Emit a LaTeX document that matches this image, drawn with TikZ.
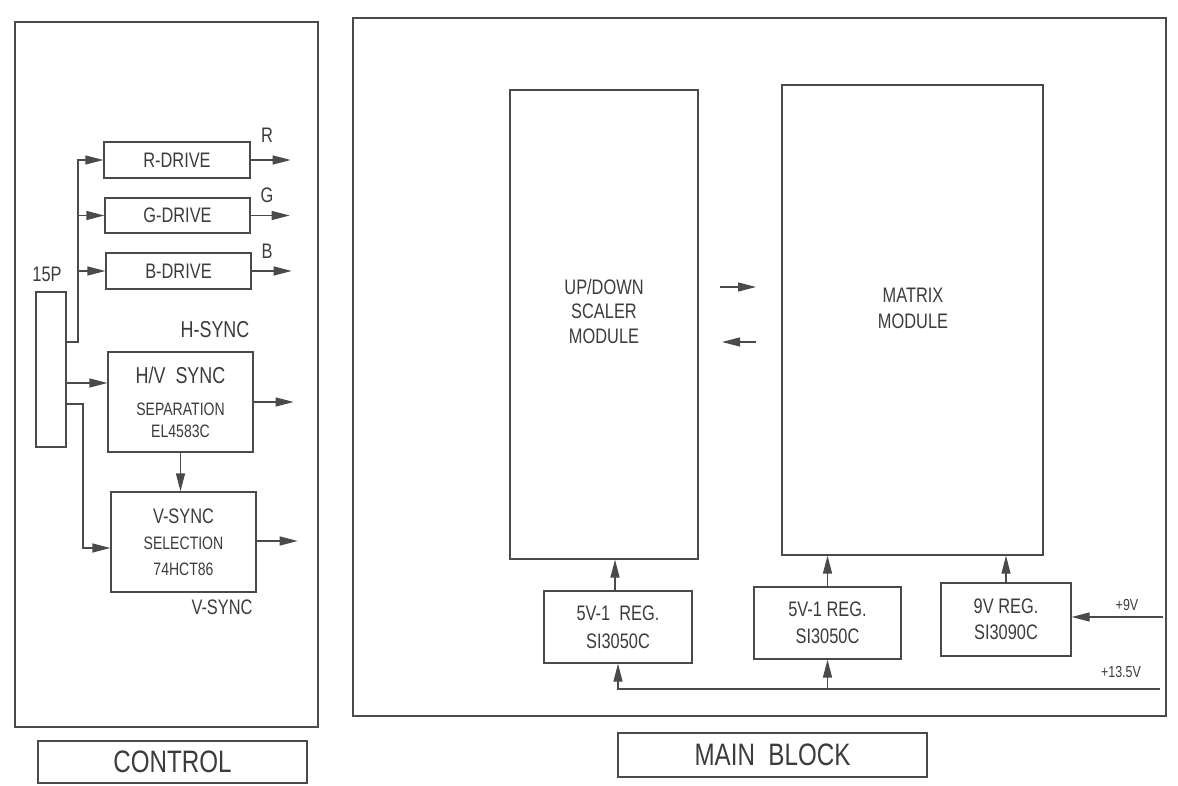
\documentclass[tikz,border=0pt]{standalone}
\usepackage{fontspec}
\setmainfont{Liberation Sans}[FakeStretch=0.78]
\usetikzlibrary{arrows.meta}
\definecolor{ink}{HTML}{4A4A4A}
\definecolor{txt}{HTML}{3C3C3C}
\begin{document}
\begin{tikzpicture}[x=1pt,y=-1pt,
  frame/.style={draw=ink,line width=1.3pt,inner sep=0pt,text=txt},
  boxa/.style={frame,align=center},
  wire/.style={draw=ink,line width=1.3pt},
  arr/.style={wire,-{Triangle[length=18pt,width=9pt]}},
  lbl/.style={text=txt,inner sep=0pt},
  fa/.style={font=\fontsize{21}{24}\selectfont},
  fb/.style={font=\fontsize{18}{22}\selectfont},
  fc/.style={font=\fontsize{16}{18}\selectfont}]
\useasboundingbox (0,0) rectangle (1178,786);
\fill[white] (0,0) rectangle (1178,786);

% ---------------- CONTROL ----------------
\node[frame,minimum width=303pt,minimum height=705pt] (ctrl) at (166.5,374.5) {};
\node[frame,minimum width=269pt,minimum height=42pt,font=\fontsize{31}{34}\selectfont] (ctrllbl) at (172.5,762) {CONTROL};

\node[frame,minimum width=30pt,minimum height=155pt] (p15) at (51,369.5) {};
\node[lbl,fa] (p15lbl) at (47,274) {15P};

\node[boxa,fa,minimum width=146pt,minimum height=36pt] (rdrv) at (177,160) {R-DRIVE};
\node[boxa,fa,minimum width=145pt,minimum height=35pt] (gdrv) at (177.5,215.5) {G-DRIVE};
\node[boxa,fa,minimum width=145pt,minimum height=36pt] (bdrv) at (178.5,271) {B-DRIVE};

\node[boxa,minimum width=145pt,minimum height=100pt,font=\fontsize{18}{22}\selectfont] (hv) at (180.5,402)
  {{\fontsize{23}{24}\selectfont H/V\ \ SYNC}\\[10pt]SEPARATION\\EL4583C};
\node[boxa,minimum width=145pt,minimum height=100pt,font=\fontsize{18}{26}\selectfont] (vs) at (183.5,542)
  {{\fontsize{21}{24}\selectfont V-SYNC}\\SELECTION\\74HCT86};

\node[lbl,fa] (rl) at (267,135) {R};
\node[lbl,fa] (gl) at (267,195) {G};
\node[lbl,fa] (bl) at (267,251) {B};
\node[lbl,font=\fontsize{23}{24}\selectfont] (hsl) at (215,330) {H-SYNC};
\node[lbl,fa] (vsl) at (222,607) {V-SYNC};

\coordinate (bus) at (78,342);
\draw[arr] (p15.east |- bus) -- (bus) |- (rdrv.west);
\draw[arr] (bus |- gdrv.west) -- (gdrv.west);
\draw[arr] (bus |- bdrv.west) -- (bdrv.west);

\draw[arr] (rdrv.east) -- ([xshift=40pt]rdrv.east);
\draw[arr] (gdrv.east) -- ([xshift=39pt]gdrv.east);
\draw[arr] (bdrv.east) -- ([xshift=40pt]bdrv.east);

\coordinate (hin) at ([yshift=19pt]hv.west);
\draw[arr] (p15.east |- hin) -- (hin);
\coordinate (vbend) at (83,404);
\coordinate (vin) at ([yshift=-6pt]vs.west);
\draw[arr] (p15.east |- vbend) -- (vbend) |- (vin);

\draw[arr] (hv.east) -- ([xshift=40pt]hv.east);
\draw[arr] (hv.south) -- (hv.south |- vs.north);
\draw[arr] ([yshift=1pt]vs.east) -- ([xshift=41pt,yshift=1pt]vs.east);

% ---------------- MAIN BLOCK ----------------
\node[frame,minimum width=813pt,minimum height=698pt] (main) at (759.5,367) {};
\node[frame,minimum width=309pt,minimum height=44pt,font=\fontsize{31}{34}\selectfont] (mainlbl) at (772.5,755) {MAIN\ \ BLOCK};

\node[frame,minimum width=188pt,minimum height=469pt] (scal) at (604,324.5) {};
\node[lbl,align=center,font=\fontsize{21}{24.5}\selectfont] (scaltxt) at (604,311) {UP/DOWN\\SCALER\\MODULE};
\node[frame,minimum width=261pt,minimum height=470pt] (matx) at (912.5,320) {};
\node[lbl,align=center,font=\fontsize{21}{26}\selectfont] (matxtxt) at (913,308) {MATRIX\\MODULE};

\coordinate (a1s) at (720,287);
\coordinate (a1e) at (756,287);
\coordinate (a2s) at (756,342);
\coordinate (a2e) at (722,342);
\draw[arr] (a1s) -- (a1e);
\draw[arr] (a2s) -- (a2e);

\node[boxa,minimum width=148pt,minimum height=72pt,font=\fontsize{21}{28}\selectfont] (reg1) at (618,627) {5V-1\ \ REG.\\SI3050C};
\node[boxa,minimum width=147pt,minimum height=72pt,font=\fontsize{21}{27}\selectfont] (reg2) at (827.5,623) {5V-1 REG.\\SI3050C};
\node[boxa,minimum width=130pt,minimum height=73pt,font=\fontsize{21}{26}\selectfont] (reg3) at (1006,619.5) {9V\ REG.\\SI3090C};

\draw[arr] ([xshift=-3pt]reg1.north) -- ([xshift=-3pt]reg1.north |- scal.south);
\draw[arr] (reg2.north) -- (reg2.north |- matx.south);
\draw[arr] (reg3.north) -- (reg3.north |- matx.south);

\coordinate (v9) at (1163,617);
\draw[arr] (v9) -- (v9 -| reg3.east);
\node[lbl,fc] (v9l) at (1127,605) {+9V};

\coordinate (v13) at (1160,689);
\draw[arr] (v13) -| (reg1.south);
\draw[arr] (reg2.south |- v13) -- (reg2.south);
\node[lbl,fc] (v13l) at (1121,672) {+13.5V};
\end{tikzpicture}
\end{document}
